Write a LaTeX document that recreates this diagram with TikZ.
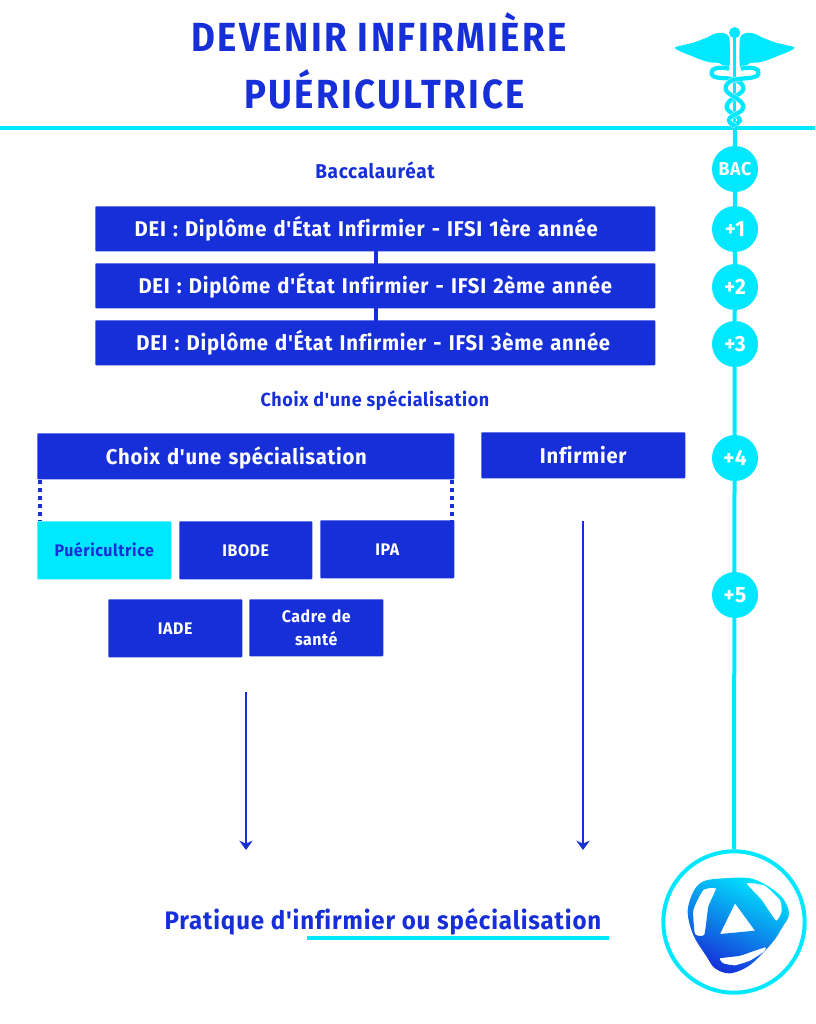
\documentclass[tikz,border=0pt]{standalone}
\usepackage{fontspec}
\defaultfontfeatures[\rmfamily]{Ligatures=NoCommon}
\setmainfont{Fira Sans}[FakeStretch=0.95,LetterSpace=3.4,Ligatures=NoCommon]
\newfontfamily\titlefont{Fira Sans}[FakeStretch=0.9,LetterSpace=6,Ligatures=NoCommon]
\usetikzlibrary{arrows.meta,calc}
\definecolor{bleu}{HTML}{162FD8}
\definecolor{cyan1}{HTML}{00E8FF}
\definecolor{bleumid}{HTML}{1A86EC}
\newcommand{\fs}[1]{\bfseries\fontsize{#1}{20}\selectfont}
\tikzset{
 px/.style={x=0.75pt,y=-0.75pt},
 bbox/.style={fill=bleu,text=white,font=\fs{16},align=center,inner sep=0pt,text height=11.6pt,text depth=0pt,rounded corners=0.6pt,anchor=north west},
 small/.style={font=\fs{12.6},text height=9.2pt},
 yearc/.style={circle,fill=cyan1,text=white,minimum size=34.5pt,inner sep=0pt,text height=11.4pt,text depth=0pt,font=\fs{16.5}},
 head/.style={text=bleu,font=\fs{14.2},inner sep=0pt,text height=10.4pt,text depth=0pt},
 titl/.style={text=bleu,font=\titlefont\bfseries\fontsize{30.5}{36}\selectfont,inner sep=0pt,anchor=base},
 rule/.style={cyan1,line width=3pt},
 arrowline/.style={bleu,line width=2pt,-{Stealth[length=7pt,width=10pt,inset=2.2pt]}},
 dotline/.style={bleu,line width=3pt,dash pattern=on 3pt off 3pt},
 snake/.style={cyan1,line width=3.2pt,preaction={draw=white,line width=3.7pt}},
}
\newcommand{\bx}[7]{\node[bbox,text width=#4*0.75pt,minimum height=#5*0.75pt,#6] (#1) at (#2,#3) {#7};}
\newcommand{\wing}{\fill[cyan1] plot[smooth cycle,tension=0.45] coordinates {(45,112) (100,98) (140,83) (165,71) (190,69) (208,85) (209,165) (200,178) (180,160) (150,157) (125,150) (95,138) (65,126)};}
\begin{document}
\begin{tikzpicture}[px]
\useasboundingbox (0,0) rectangle (815,1024);
% title
\node[titl] (t1) at (379,51.5) {DEVENIR INFIRMIÈRE};
\node[titl] (t2) at (384.5,108.5) {PUÉRICULTRICE};
% rules
\coordinate (ruleL) at (0,128);
\coordinate (ruleR) at (815,128);
\draw[rule] (ruleL) -- (ruleR);
% logo circle
\node[circle,draw=cyan1,line width=3pt,minimum size=106pt,inner sep=0pt] (logoring) at (734,922) {};
\coordinate (cadfoot) at (735,122);
\draw[rule] (cadfoot) -- (logoring.north);
% year circles
\node[yearc,font=\fs{14},text height=9.7pt] (bac) at (735,169) {BAC};
\node[yearc] (y1) at (735,229) {+1};
\node[yearc] (y2) at (735,287) {+2};
\node[yearc] (y3) at (735,344) {+3};
\node[yearc] (y4) at (735,458) {+4};
\node[yearc] (y5) at (735,595) {+5};
% connectors behind boxes
\coordinate (c12) at (376,250);
\coordinate (c12b) at (376,264);
\coordinate (c23) at (376,307);
\coordinate (c23b) at (376,321);
\draw[bleu,line width=2.6pt] (c12) -- (c12b);
\draw[bleu,line width=2.6pt] (c23) -- (c23b);
% DEI boxes
\bx{d1}{95}{206}{560}{45}{}{DEI : Diplôme d'État Infirmier - IFSI 1ère année\hspace*{13.5pt}}
\bx{d2}{95}{263}{560}{45}{}{DEI : Diplôme d'État Infirmier - IFSI 2ème année}
\bx{d3}{95}{320}{560}{45}{}{DEI : Diplôme d'État Infirmier - IFSI 3ème année\hspace*{3pt}}
\node[head,font=\fs{15},text height=11pt] (bacc) at (375,171) {Baccalauréat};
\node[head] (choixh) at (375,400) {Choix d'une spécialisation};
% specialisations
\bx{ch}{37}{433}{417}{46}{}{Choix d'une spécialisation\hspace*{14pt}}
\bx{inf}{481}{432}{204}{46}{}{Infirmier}
\bx{pue}{37}{521}{134}{58}{fill=cyan1,text=bleu,small}{Puéricultrice}
\bx{ibo}{179}{521}{133}{58}{small}{IBODE}
\bx{ipa}{320}{520}{134}{58}{small}{IPA}
\bx{iad}{108}{599}{134}{58}{small}{IADE}
\node[bbox,text width=134*0.75pt,minimum height=57*0.75pt,font=\bfseries\fontsize{12.6}{17}\selectfont,text height=,text depth=] (cad) at (249,599) {Cadre de\\santé};
\draw[dotline] ([xshift=2pt]ch.south west) -- ([xshift=2pt]pue.north west);
\draw[dotline] ([xshift=-2pt]ch.south east) -- ([xshift=-2pt]ipa.north east);
% arrows
\coordinate (a1s) at (246,692);
\coordinate (a1e) at (246,850);
\coordinate (a2s) at (583,521);
\coordinate (a2e) at (583,850);
\draw[arrowline] (a1s) -- (a1e);
\draw[arrowline] (a2s) -- (a2e);
% bottom text
\node[head,font=\fs{19},text height=13.1pt] (prat) at (383,921) {Pratique d'infirmier ou spécialisation};
\coordinate (ulL) at (307,938);
\coordinate (ulR) at (609,938);
\draw[cyan1,line width=2.5pt] (ulL) -- (ulR);
% caduceus
\begin{scope}[shift={(660,10)},x=0.25pt,y=-0.25pt]
 \draw[cyan1,line width=2.2pt] (224,68) -- (224,350);
 \fill[cyan1] (224,68) circle (4.2pt);
 \wing
 \begin{scope}[xscale=-1,xshift=-112pt]\wing\end{scope}
 \draw[snake] (207,176) .. controls (170,168) and (150,178) .. (155,192) .. controls (160,208) and (195,202) .. (215,207) .. controls (240,212) and (252,225) .. (250,237) .. controls (248,252) and (200,268) .. (200,290) .. controls (200,310) and (240,315) .. (240,332) -- (228,345);
 \draw[snake] (243,176) .. controls (280,168) and (300,178) .. (295,192) .. controls (290,208) and (240,203) .. (220,210) .. controls (205,215) and (195,225) .. (197,238) .. controls (200,255) and (250,268) .. (250,290) .. controls (250,310) and (207,315) .. (207,330) .. controls (208,340) and (218,345) .. (226,348);
\end{scope}
% logo
\begin{scope}[shift={(640,840)},x=0.25pt,y=-0.25pt]
 \shade[even odd rule,top color=cyan1,middle color=bleumid,bottom color=bleu,shading angle=-25]
 plot[smooth cycle,tension=0.55] coordinates {(143,215) (160,155) (190,124) (250,115) (340,117) (420,165) (447,220) (425,265) (395,310) (330,375) (270,400) (225,385) (200,350) (160,285)}
 plot[smooth cycle,tension=0.3] coordinates {(165,282) (160,210) (190,150) (228,145) (205,200) (193,284)}
 (285,190) -- (345,272) -- (240,282) -- cycle
 plot[smooth cycle,tension=0.3] coordinates {(320,130) (375,137) (420,180) (425,215) (408,242) (365,180)}
 plot[smooth cycle,tension=0.3] coordinates {(240,355) (300,347) (375,322) (372,335) (330,362) (285,376) (250,370)};
\end{scope}
\end{tikzpicture}
\end{document}
